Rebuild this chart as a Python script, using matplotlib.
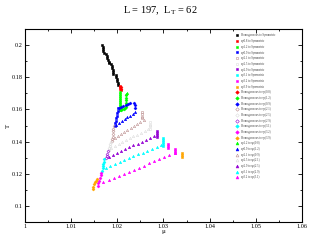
import matplotlib
matplotlib.use('Agg')
import matplotlib.pyplot as plt
from matplotlib.ticker import MultipleLocator

plt.rcParams['font.family'] = ['Liberation Serif', 'DejaVu Serif']

# grace-like palette
colors = ['black', 'red', '#00ff00', 'blue', '#bc8f8f', '#dcdcdc',
          '#9400d3', 'cyan', 'magenta', '#ffa500']

# --- squares: spX to Symmetric ---
black_sq_x = [1.0167, 1.0168, 1.0169, 1.0170, 1.0171,
              1.0176, 1.0177, 1.0178, 1.0180, 1.0181, 1.0182,
              1.0187, 1.0188, 1.0189, 1.0190, 1.0191, 1.0191,
              1.0197, 1.0198, 1.0199, 1.0200, 1.0201, 1.0202]
black_sq_y = [0.2000, 0.1987, 0.1975, 0.1962, 0.1950,
              0.1944, 0.1931, 0.1919, 0.1906, 0.1894, 0.1888,
              0.1881, 0.1869, 0.1856, 0.1844, 0.1831, 0.1819,
              0.1812, 0.1800, 0.1787, 0.1775, 0.1762, 0.1750]
red_sq_x = [1.0205, 1.0206, 1.0206, 1.0207]
red_sq_y = [0.1748, 0.1738, 0.1728, 0.1718]
green_sq_x = [1.0206, 1.0206, 1.0206, 1.0206, 1.0206, 1.0206, 1.0206, 1.0206, 1.0206, 1.0206]
green_sq_y = [0.1706, 0.1694, 0.1682, 0.1670, 0.1658, 0.1646, 0.1634, 0.1622, 0.1610, 0.1598]
blue_sq_x = [1.0202, 1.0201, 1.0200, 1.0199, 1.0198, 1.0197, 1.0196, 1.0195]
blue_sq_y = [0.1606, 0.1591, 0.1576, 0.1561, 0.1546, 0.1531, 0.1516, 0.1500]
brown_sq_x = [1.0254, 1.0254, 1.0254, 1.0254]
brown_sq_y = [0.1581, 0.1569, 0.1556, 0.1544]
grey_sq_x = [1.0271, 1.0271, 1.0271, 1.0271]
grey_sq_y = [0.1519, 0.1506, 0.1494, 0.1481]
violet_sq_x = [1.0286, 1.0286, 1.0286, 1.0286]
violet_sq_y = [0.1469, 0.1456, 0.1444, 0.1431]
cyan_sq_x = [1.0299, 1.0299, 1.0299, 1.0299, 1.0299]
cyan_sq_y = [0.1425, 0.1413, 0.1400, 0.1388, 0.1375]
magenta_sq_x = [1.0310, 1.0310, 1.0310, 1.0325, 1.0325, 1.0325]
magenta_sq_y = [0.1388, 0.1375, 0.1362, 0.1356, 0.1344, 0.1331]
orange_sq_x = [1.0340, 1.0340, 1.0340]
orange_sq_y = [0.1331, 0.1319, 0.1306]

# --- diamonds: Homogeneous to spX ---
red_di_x = [1.0207, 1.0208]
red_di_y = [0.1742, 0.1730]
green_di_x = [1.0208, 1.0211, 1.0214, 1.0217, 1.0219, 1.0219, 1.0219, 1.0219, 1.0219, 1.0219]
green_di_y = [0.1598, 0.1600, 0.1603, 0.1606, 0.1613, 0.1628, 0.1643, 0.1658, 0.1673, 0.1688]
blue_di_x = [1.0204, 1.0208, 1.0213, 1.0218, 1.0223, 1.0228, 1.0236, 1.0238, 1.0238]
blue_di_y = [0.1608, 0.1614, 0.1620, 0.1626, 0.1633, 0.1640, 0.1638, 0.1625, 0.1612]
brown_di_x = [1.0192, 1.0191, 1.0191, 1.0190, 1.0190, 1.0189, 1.0189]
brown_di_y = [0.1494, 0.1478, 0.1463, 0.1447, 0.1431, 0.1416, 0.1403]
grey_di_x = [1.0186, 1.0185, 1.0184, 1.0183, 1.0182]
grey_di_y = [0.1400, 0.1388, 0.1375, 0.1362, 0.1350]
violet_di_x = [1.0179, 1.0178, 1.0177, 1.0176]
violet_di_y = [0.1340, 0.1325, 0.1310, 0.1296]
cyan_di_x = [1.0172, 1.0171, 1.0170, 1.0169, 1.0168, 1.0167]
cyan_di_y = [0.1290, 0.1276, 0.1262, 0.1248, 0.1234, 0.1220]
magenta_di_x = [1.0165, 1.0164, 1.0162, 1.0161, 1.0159, 1.0158]
magenta_di_y = [0.1206, 0.1190, 0.1174, 0.1158, 0.1142, 0.1126]
orange_di_x = [1.0156, 1.0154, 1.0152, 1.0150, 1.0148, 1.0147]
orange_di_y = [0.1169, 0.1158, 0.1146, 0.1134, 0.1120, 0.1108]

# --- triangles: spX to spY ---
green_tr_x = [1.0219, 1.0220]
green_tr_y = [0.1695, 0.1700]
blue_tr_x = [1.0198, 1.0204, 1.0210, 1.0216, 1.0222, 1.0228, 1.0234, 1.0238]
blue_tr_y = [0.1502, 0.1514, 0.1526, 0.1538, 0.1550, 0.1562, 0.1574, 0.1583]
brown_tr_x = [1.0194, 1.0201, 1.0208, 1.0215, 1.0222, 1.0229, 1.0236, 1.0243, 1.0250, 1.0257]
brown_tr_y = [0.1425, 0.1437, 0.1449, 0.1461, 0.1473, 0.1485, 0.1497, 0.1509, 0.1521, 0.1535]
grey_tr_x = [1.0187, 1.0195, 1.0203, 1.0211, 1.0219, 1.0227, 1.0235, 1.0243, 1.0251, 1.0259, 1.0266]
grey_tr_y = [0.1360, 0.1372, 0.1384, 0.1396, 0.1408, 0.1420, 0.1432, 0.1444, 0.1456, 0.1468, 0.1480]
violet_tr_x = [1.0181, 1.0190, 1.0199, 1.0208, 1.0217, 1.0226, 1.0235, 1.0244, 1.0253, 1.0262, 1.0271, 1.0280]
violet_tr_y = [0.1304, 0.1316, 0.1328, 0.1340, 0.1352, 0.1364, 0.1376, 0.1388, 0.1400, 0.1412, 0.1424, 0.1436]
cyan_tr_x = [1.0175, 1.0185, 1.0195, 1.0205, 1.0215, 1.0225, 1.0235, 1.0245, 1.0255, 1.0265, 1.0275, 1.0285, 1.0295]
cyan_tr_y = [0.1236, 0.1248, 0.1260, 0.1272, 0.1284, 0.1296, 0.1308, 0.1320, 0.1332, 0.1344, 0.1356, 0.1368, 0.1380]
magenta_tr_x = [1.0170, 1.0181, 1.0192, 1.0203, 1.0214, 1.0225, 1.0236, 1.0247, 1.0258, 1.0269, 1.0280, 1.0291, 1.0302, 1.0313, 1.0324]
magenta_tr_y = [0.1148, 0.1160, 0.1173, 0.1186, 0.1199, 0.1212, 0.1225, 0.1238, 0.1251, 0.1264, 0.1277, 0.1290, 0.1303, 0.1316, 0.1329]

sq_labels = ['Homogeneous to Symmetric', 'sp0.8 to Symmetric', 'sp1.2 to Symmetric',
             'sp0.9 to Symmetric', 'sp2.1 to Symmetric', 'sp2.5 to Symmetric',
             'sp2.9 to Symmetric', 'sp3.1 to Symmetric', 'sp3.2 to Symmetric',
             'sp3.9 to Symmetric']
di_labels = ['Homogeneous to sp(0.8)', 'Homogeneous to sp(1.2)', 'Homogeneous to sp(0.9)',
             'Homogeneous to sp(2.1)', 'Homogeneous to sp(2.5)', 'Homogeneous to sp(2.9)',
             'Homogeneous to sp(3.1)', 'Homogeneous to sp(3.2)', 'Homogeneous to sp(3.9)']
tr_labels = ['sp1.2 to sp(0.8)', 'sp0.9 to sp(1.2)', 'sp2.1 to sp(0.9)',
             'sp2.5 to sp(2.1)', 'sp2.9 to sp(2.5)', 'sp3.1 to sp(2.9)',
             'sp3.2 to sp(3.1)']

xticks = [1.0, 1.01, 1.02, 1.03, 1.04, 1.05, 1.06]
xtick_labels = ['1', '1.01', '1.02', '1.03', '1.04', '1.05', '1.06']
yticks = [0.1, 0.12, 0.14, 0.16, 0.18, 0.2]
ytick_labels = ['0.1', '0.12', '0.14', '0.16', '0.18', '0.2']

fig = plt.figure(figsize=(3.09, 2.40), dpi=100)
ax = fig.add_axes([0.081, 0.075, 0.896, 0.804])

sq_data = [(black_sq_x, black_sq_y), (red_sq_x, red_sq_y), (green_sq_x, green_sq_y),
           (blue_sq_x, blue_sq_y), (brown_sq_x, brown_sq_y), (grey_sq_x, grey_sq_y),
           (violet_sq_x, violet_sq_y), (cyan_sq_x, cyan_sq_y), (magenta_sq_x, magenta_sq_y),
           (orange_sq_x, orange_sq_y)]
di_data = [(red_di_x, red_di_y), (green_di_x, green_di_y), (blue_di_x, blue_di_y),
           (brown_di_x, brown_di_y), (grey_di_x, grey_di_y), (violet_di_x, violet_di_y),
           (cyan_di_x, cyan_di_y), (magenta_di_x, magenta_di_y), (orange_di_x, orange_di_y)]
tr_data = [(green_tr_x, green_tr_y), (blue_tr_x, blue_tr_y), (brown_tr_x, brown_tr_y),
           (grey_tr_x, grey_tr_y), (violet_tr_x, violet_tr_y), (cyan_tr_x, cyan_tr_y),
           (magenta_tr_x, magenta_tr_y)]

hollow = {'#bc8f8f', '#dcdcdc'}
for (x, y), c, lab in zip(sq_data, colors, sq_labels):
    ax.plot(x, y, ls='none', marker='s', ms=1.6, mec=c, mew=0.4,
            mfc='none' if c in hollow else c, label=lab)
for (x, y), c, lab in zip(di_data, colors[1:], di_labels):
    ax.plot(x, y, ls='none', marker='D', ms=1.5, mec=c, mew=0.4,
            mfc='none' if c in hollow or c == '#9400d3' else c, label=lab)
for (x, y), c, lab in zip(tr_data, colors[2:], tr_labels):
    ax.plot(x, y, ls='none', marker='^', ms=1.7, mec=c, mew=0.4,
            mfc='none' if c in hollow else c, label=lab)

ax.set_xlim(1.0, 1.06)
ax.set_ylim(0.09, 0.21)
ax.set_xticks(xticks)
ax.set_xticklabels(xtick_labels)
ax.set_yticks(yticks)
ax.set_yticklabels(ytick_labels)
ax.xaxis.set_minor_locator(MultipleLocator(0.005))
ax.yaxis.set_minor_locator(MultipleLocator(0.01))
ax.tick_params(which='both', direction='in', top=True, right=True,
               labelsize=4.5, width=0.6, pad=1.5)
ax.tick_params(which='major', length=3)
ax.tick_params(which='minor', length=1.5)
for s in ax.spines.values():
    s.set_linewidth(0.8)

ax.set_xlabel('μ', fontsize=5, labelpad=0)
ax.set_ylabel('T', fontsize=5, labelpad=1)
fig.text(0.52, 0.955, 'L = 197,  L$_\\mathregular{T}$ = 62', ha='center', va='center', fontsize=7.5)

leg = ax.legend(loc='upper left', bbox_to_anchor=(0.755, 0.985), frameon=False,
                fontsize=2.2, handlelength=0.8, handletextpad=0.9, labelspacing=0.55,
                borderpad=0, markerscale=1.2)
for t in leg.get_texts():
    t.set_color('#444444')

plt.savefig('out.png', dpi=100)
